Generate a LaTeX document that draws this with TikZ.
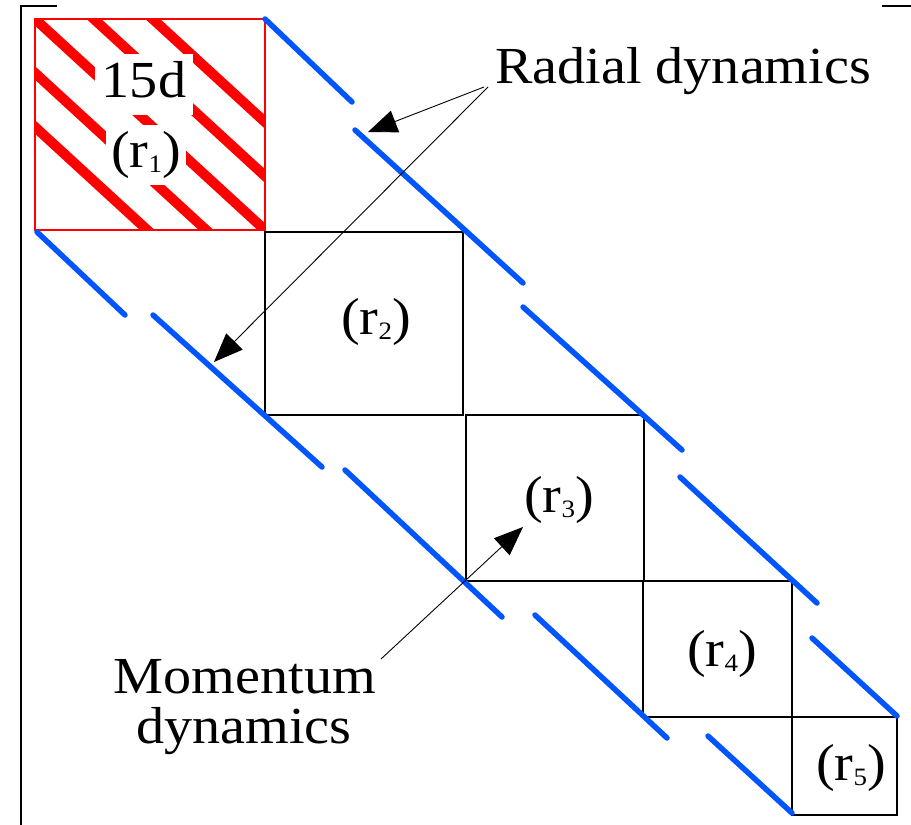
\documentclass[tikz,border=0pt]{standalone}
\usepackage{fontspec}
\setmainfont{Liberation Serif}[FakeStretch=1.08]
\usetikzlibrary{arrows.meta}
\definecolor{myblue}{RGB}{0,85,255}
\definecolor{myred}{RGB}{255,0,0}
\newcommand{\rlab}[1]{(r\raisebox{-5pt}{\fontsize{25}{25}\selectfont #1})}
\begin{document}
\begin{tikzpicture}[x=1pt,y=-1pt,
  blk/.style={draw=black,line width=2pt},
  bluedash/.style={draw=myblue,line width=5.5pt,line cap=round},
  stripe/.style={draw=myred,line width=10pt},
  lbl/.style={font=\fontsize{52}{60}\selectfont, inner sep=0pt},
  pointer/.style={draw=black,line width=0.9pt,-{Triangle[length=29pt,width=23pt]}},
  bracket/.style={draw=black,line width=2.5pt}
]
\useasboundingbox (0,0) rectangle (911,825);

% brackets
\draw[bracket] (21,825) -- (21,6) -- (57,6);
\draw[bracket] (882,6) -- (911,6);

% hatched red block
\begin{scope}
  \clip (35,19) rectangle (265,230);
  \foreach \k in {-108,-54,0,54,108}
    \draw[stripe] (-15,{19+\k-45.9}) -- (315,{230+\k+45.9});
\end{scope}
\node[lbl, fill=white, inner xsep=7pt, inner ysep=7pt, anchor=base] (d15) at (144,97) {15d\vphantom{(}};
\node[lbl, fill=white, inner xsep=5pt, inner ysep=6pt] (r1) at (146,155) {\rlab{1}};
\draw[draw=myred,line width=2pt] (35,19) rectangle (265,230);

% black blocks
\draw[blk] (265,232) rectangle (463,415);
\draw[blk] (466,415) rectangle (644,581);
\draw[blk] (643,581) rectangle (792,717);
\draw[blk] (792,717) rectangle (897,815);

% blue dashed bands (upper)
\draw[bluedash] (265,19) -- (352,102);
\draw[bluedash] (355,130) -- (523,283);
\draw[bluedash] (523,307) -- (682,450);
\draw[bluedash] (680,477) -- (817,603);
\draw[bluedash] (812,638) -- (897,716);
% blue dashed bands (lower)
\draw[bluedash] (37,232) -- (125,315);
\draw[bluedash] (153,315) -- (322,467);
\draw[bluedash] (345,470) -- (502,617);
\draw[bluedash] (535,615) -- (667,738);
\draw[bluedash] (708,736) -- (792,813);

% labels in blocks
\node[lbl] (r2) at (376,322) {\rlab{2}};
\node[lbl] (r3) at (559,500) {\rlab{3}};
\node[lbl] (r4) at (722,654) {\rlab{4}};
\node[lbl] (r5) at (851,768) {\rlab{5}};

% annotations
\node[lbl, anchor=base west] (radial) at (495,83) {Radial dynamics};
\node[lbl, anchor=base] (mom1) at (245,693) {Momentum};
\node[lbl, anchor=base] (mom2) at (244,743) {dynamics};

\coordinate (ra1) at (484,87);
\coordinate (ra2) at (488,87);
\coordinate (t1) at (368,132);
\coordinate (t2) at (214,362);
\coordinate (ma) at (381,659);
\coordinate (t3) at (523,527);
\draw[pointer] (ra1) -- (t1);
\draw[pointer] (ra2) -- (t2);
\draw[pointer] (ma) -- (t3);
\end{tikzpicture}
\end{document}
